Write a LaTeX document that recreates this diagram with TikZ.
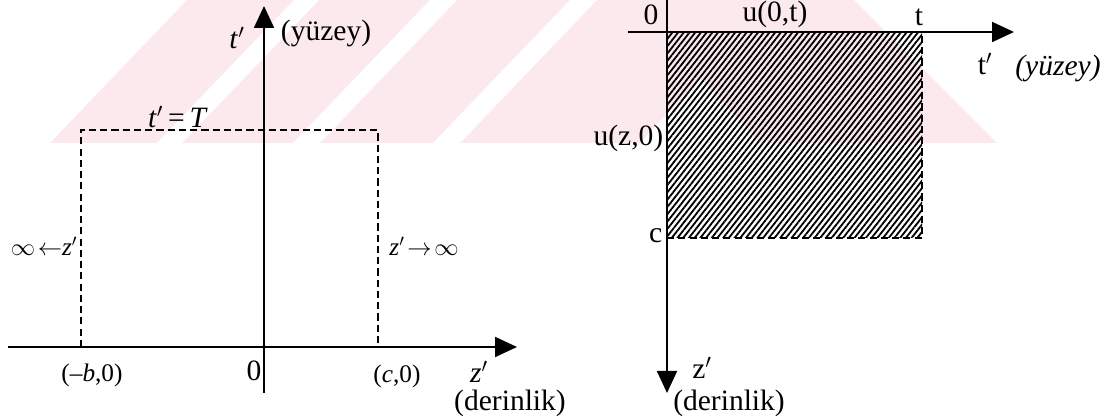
\documentclass[tikz,border=0pt]{standalone}
\usepackage{fontspec}
\setmainfont{Liberation Serif}
\usetikzlibrary{arrows.meta,patterns.meta}
\definecolor{wmark}{RGB}{252,233,237}

\begin{document}
\begin{tikzpicture}[x=0.025cm, y=0.025cm,
    axis/.style={line width=1.3pt,-{Triangle[length=0.55cm,width=0.5cm]}},
    bound/.style={line width=1.1pt,dash pattern=on 5pt off 3pt},
    lbl/.style={font=\fontsize{21}{24}\selectfont,inner sep=1pt},
    slbl/.style={font=\fontsize{18}{20}\selectfont,inner sep=1pt}]
  \useasboundingbox (0,0) rectangle (1103,418);

  \fill[wmark] (50,275) -- (187,418) -- (854,418) -- (997,275) -- cycle;
  \foreach \a/\b in {157/182, 293/320, 433/460}
    \fill[white] (\a,275) -- (\a+137,418) -- (\b+137,418) -- (\b,275) -- cycle;
  \fill[white] (640,275) -- (700,340) -- (760,275) -- cycle;

  % left: z'-t' plane
  \coordinate (hL) at (8,71);    \coordinate (hR) at (517,71);
  \coordinate (vB) at (264,25);  \coordinate (vT) at (264,412);
  \coordinate (mb) at (81,71);   \coordinate (mc) at (378,71);
  \draw[bound] (mb) -- ++(0,217) -| (mc);
  \draw[axis] (hL) -- (hR);
  \draw[axis] (vB) -- (vT);
  \node[lbl] (tl) at (237,380) {\textit{t}$'$};
  \node[lbl] (yl) at (326,385) {(yüzey)};
  \node[lbl] (tT) at (178,301) {\textit{t}$'$\,=\,\textit{T}};
  \node[slbl] (zinfL) at (44,172) {$\infty\!\leftarrow$\textit{z}$'$};
  \node[slbl] (zinfR) at (424,172) {\textit{z}$'\!\rightarrow\!\infty$};
  \node[slbl] (bl) at (92,43) {(–\textit{b},0)};
  \node[lbl] (ol) at (254,47) {0};
  \node[slbl] (cl) at (397,42) {(\textit{c},0)};
  \node[lbl] (zl) at (479,46) {\textit{z}$'$};
  \node[lbl] (dl) at (510,15) {(derinlik)};

  % right: t'-z' plane
  \coordinate (HL) at (628,386); \coordinate (HR) at (1014,386);
  \coordinate (VT) at (667,418); \coordinate (VB) at (667,25);
  \coordinate (ct) at (922,386); \coordinate (cc) at (667,180);
  \fill[pattern={Lines[angle=52,distance=3.2pt,line width=1.3pt]}]
    (cc) rectangle (ct);
  \draw[bound] (cc) -| (ct);
  \draw[axis] (HL) -- (HR);
  \draw[axis] (VT) -- (VB);
  \node[lbl] (or) at (651,403) {0};
  \node[lbl] (u0t) at (775,404) {u(0,t)};
  \node[lbl] (tr) at (919,401) {t};
  \node[lbl] (tpr) at (985,354) {t$'$};
  \node[lbl] (yr) at (1058,350) {\textit{(yüzey)}};
  \node[lbl,anchor=east] (uz0) at (665,280) {u(z,0)};
  \node[lbl,anchor=east] (cr) at (664,182) {c};
  \node[lbl] (zr) at (702,50) {z$'$};
  \node[lbl] (dr) at (729,15) {(derinlik)};
\end{tikzpicture}
\end{document}
